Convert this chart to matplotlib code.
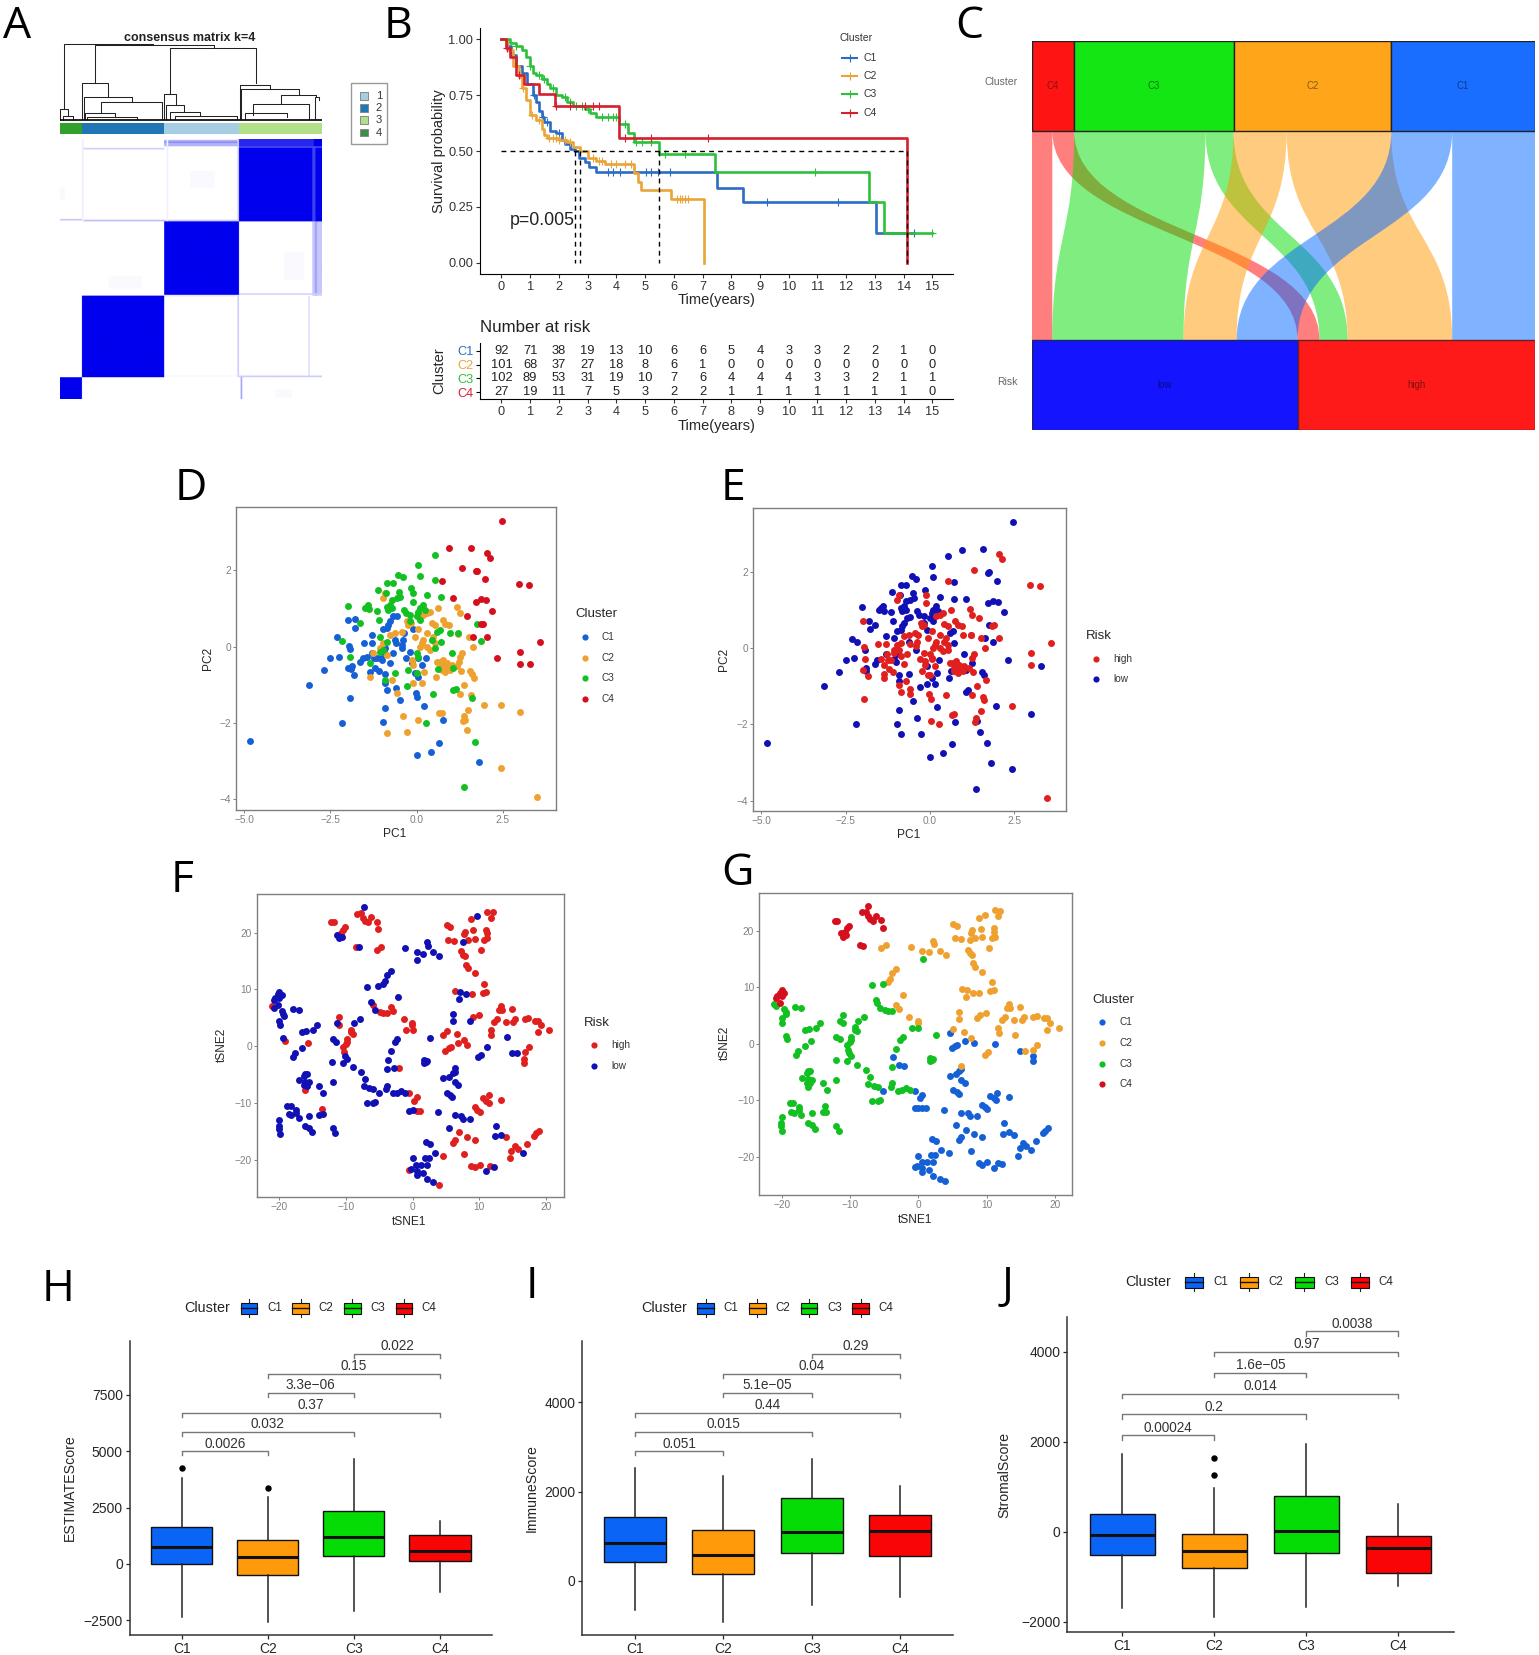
import numpy as np
import matplotlib
matplotlib.use('Agg')
import matplotlib.pyplot as plt
from matplotlib.colors import LinearSegmentedColormap
from matplotlib.patches import PathPatch, Rectangle
from matplotlib.path import Path

plt.rcParams['font.family'] = ['Liberation Sans', 'DejaVu Sans']

W, H = 1539, 1655

# A: consensus matrix
cons_col_order = [4, 2, 1, 3]
cons_row_order = [3, 1, 2, 4]
cons_sizes = {1: 92, 2: 101, 3: 102, 4: 27}
cons_colors = {1: '#A6CEE3', 2: '#1F78B4', 3: '#B2DF8A', 4: '#33A02C'}
# row0, row1, col0, col1, value
cons_streaks = [
    (1, 9, 128, 220, .3), (3, 5, 128, 220, .45), (11, 13, 27, 128, .18),
    (99, 101, 0, 27, .22), (100, 102, 27, 128, .25), (100, 102, 128, 220, .2),
    (0, 102, 27, 29, .07), (0, 102, 131, 133, .06), (0, 102, 218, 220, .18),
    (9, 102, 310, 314, .75), (9, 11, 220, 322, .7), (0, 9, 220, 322, .85), (0, 9, 312, 322, 1),
    (102, 194, 310, 322, .22), (102, 194, 313, 316, .35), (191, 193, 220, 322, .18),
    (193, 195, 128, 220, .1), (194, 295, 218, 220, .2), (194, 295, 305, 307, .13),
    (293, 295, 220, 322, .2), (293, 294, 128, 220, .06), (295, 322, 222, 224, .35),
    (40, 60, 160, 190, .025), (140, 175, 275, 300, .025), (170, 185, 60, 100, .025),
    (60, 75, 0, 6, .025), (310, 320, 265, 285, .025),
]
# left x, right x, top, left bottom, right bottom
dendro_links = [
    (193, 460, 132, 326, 132), (285, 640, 135, 250, 143), (510, 766, 143, 283, 250),
    (247, 323, 250, 358, 290), (253, 395, 290, 358, 305), (302, 485, 305, 335, 358),
    (255, 345, 340, 358, 350), (262, 410, 350, 358, 358), (493, 527, 283, 358, 315),
    (497, 553, 315, 358, 332), (510, 600, 335, 358, 345), (525, 710, 348, 358, 358),
    (720, 810, 254, 358, 268), (723, 895, 268, 358, 285), (842, 948, 285, 310, 292),
    (757, 925, 312, 345, 358), (735, 860, 340, 358, 350), (945, 955, 292, 358, 300),
    (180, 204, 326, 360, 347), (188, 220, 349, 360, 360),
]

# B: survival
km_colors = {'C1': '#2B6CC4', 'C2': '#E9A539', 'C3': '#2DC03C', 'C4': '#D3202E'}
km_c1_t = [0, .2, .35, .5, .7, .9, 1.1, 1.2, 1.3, 1.4, 1.5, 1.7, 1.9, 2.1, 2.2, 2.4, 2.55, 2.7, 2.9, 3.05, 3.3, 7.5, 8.4, 13.05, 14.37]
km_c1_s = [1, .97, .93, .88, .85, .8, .75, .72, .68, .65, .63, .59, .58, .55, .53, .51, .5, .47, .45, .43, .405, .335, .27, .135, .135]
km_c2_t = [0, .2, .4, .6, .7, .85, 1, 1.2, 1.4, 1.5, 1.6, 2, 2.3, 2.5, 2.75, 3, 3.3, 3.6, 4.6, 4.75, 4.85, 5.9, 7.05]
km_c2_s = [1, .95, .88, .83, .78, .73, .66, .64, .6, .57, .56, .55, .54, .52, .5, .47, .455, .44, .4, .36, .325, .285, 0]
km_c3_t = [0, .3, .5, .7, .85, 1, 1.1, 1.2, 1.4, 1.6, 1.7, 1.9, 2.1, 2.3, 2.5, 2.9, 3.1, 3.3, 4.1, 4.4, 4.6, 5.5, 7.45, 12.8, 13.3, 15]
km_c3_s = [1, .985, .97, .95, .92, .88, .85, .84, .82, .8, .78, .75, .74, .72, .7, .69, .67, .65, .62, .58, .54, .485, .405, .27, .135, .135]
km_c4_t = [0, .15, .3, .5, .8, 1.3, 1.85, 4.1, 14.1]
km_c4_s = [1, .96, .92, .84, .8, .755, .7, .56, 0]
km_c1_cens = [1.15, 1.45, 1.6, 2.0, 3.7, 3.9, 4.13, 5.03, 5.2, 5.45, 5.87, 9.25, 11.73, 14.37]
km_c2_cens = [.75, 1.05, 1.3, 1.65, 1.8, 1.9, 2.0, 2.2, 2.4, 3.2, 3.4, 3.5, 3.8, 4.0, 4.3, 4.5, 6.1, 6.2, 6.3, 6.4, 6.5]
km_c3_cens = [.5, 1.0, 1.3, 1.5, 1.8, 2.2, 2.4, 2.6, 2.8, 3.0, 3.5, 3.7, 3.9, 4.0, 4.3, 4.7, 4.9, 5.2, 5.7, 6.4, 10.9, 15.0]
km_c4_cens = [.2, .6, 1.9, 2.4, 2.9, 3.2, 3.4, 4.3, 5.2, 7.2]
km_medians = [2.55, 2.75, 5.5, 14.1]
km_xticks = list(range(16))
risk_c1 = [92, 71, 38, 19, 13, 10, 6, 6, 5, 4, 3, 3, 2, 2, 1, 0]
risk_c2 = [101, 68, 37, 27, 18, 8, 6, 1, 0, 0, 0, 0, 0, 0, 0, 0]
risk_c3 = [102, 89, 53, 31, 19, 10, 7, 6, 4, 4, 4, 3, 3, 2, 1, 1]
risk_c4 = [27, 19, 11, 7, 5, 3, 2, 2, 1, 1, 1, 1, 1, 1, 1, 0]

# C: alluvial
allu_clusters = ['C4', 'C3', 'C2', 'C1']
allu_low = [13, 84, 34, 39]
allu_high = [14, 18, 67, 53]
allu_fill = {'C4': '#FF1414', 'C3': '#14E614', 'C2': '#FFA51A', 'C1': '#1A6EFF'}
allu_flow = {'C4': '#FF0000', 'C3': '#00DD00', 'C2': '#FF9900', 'C1': '#0066FF'}
allu_text = {'C4': '#8A1010', 'C3': '#0B7A0B', 'C2': '#8A5A10', 'C1': '#0F3C8A', 'low': '#0A0A80', 'high': '#801010'}

# D, E: PCA points by cluster and risk
pca_c1_high = [(-1.99, .70), (-1.96, .02), (-1.99, -.57), (-1.82, -.74), (-1.94, -1.34), (-1.54, .10), (-1.30, .10),
               (-1.45, -.28), (-1.24, -.31), (-1.14, -.31), (-1.35, -.67), (-1.08, -.64), (-.92, -.96), (-.87, -1.14),
               (-.60, -1.08), (-.02, -1.21), (.02, -1.33), (-.77, -.42), (-.68, -.16), (-.36, .35), (-.39, .17),
               (-.42, .04), (-.19, -.13), (-.14, -.44), (.16, -.48), (-.05, -.70), (-.92, -.04), (-.30, -.30),
               (-1.20, -.55), (-.60, .10), (.05, -.30)]
pca_c1_low = [(-4.83, -2.48), (-3.13, -1.00), (-2.68, -.62), (-2.50, -.31), (-2.26, -.26), (-2.30, .24), (-2.18, -2.00),
              (-1.80, .72), (-1.79, .49), (-1.92, -.05), (-1.88, -.52), (-1.90, -.59), (-1.31, .31), (-1.64, -.41),
              (-1.57, -.31), (-1.30, -.17), (-1.01, -.36), (-.92, -.72), (-.49, -1.40), (-.91, -1.62), (-.98, -1.98),
              (.21, -1.55), (.75, -1.93), (.66, -2.52), (.40, -2.76), (0, -2.85), (1.81, -3.01), (.05, -.79),
              (.27, -.31), (-.10, .47), (-.58, .80), (-.68, .79), (-.77, .66), (-.82, .57), (-.87, .48), (-.97, .45),
              (-.63, .17), (-.42, -.04), (-1.05, -.30), (-.95, -.15)]
pca_c2_high = [(3.48, -3.93), (2.43, -1.52), (1.50, -1.66), (1.37, -1.83), (1.33, -1.94), (.66, -1.75), (.72, -1.73), (.03, -1.92),
               (-.58, -1.21), (-.72, -.87), (-1.35, -.79), (1.58, -1.28), (1.38, -1.00), (1.26, -1.24), (1.66, -.83),
               (1.29, -.63), (1.62, 0), (1.52, .26), (1.21, .33), (1.30, -.17), (1.26, -.26), (1.16, -.52),
               (.68, -.39), (.77, -.35), (.87, -.44), (.72, -.52), (.82, -.57), (.92, -.52), (.97, -.61), (.82, -.66),
               (.72, -.61), (1.01, -.48), (.58, -.39), (.63, 1.0), (1.18, 1.03), (1.26, .87), (-.97, 1.27), (-.92, 1.40),
               (.75, .70), (.82, .59), (.95, .57), (.43, .63), (.53, .57), (.29, .87), (.19, .83), (.39, .92),
               (-.24, .57), (-.27, .66), (-.17, .61), (.05, .45), (.29, .35), (.19, .17), (.14, .09), (.29, 0),
               (.39, -.09), (.10, 0), (.48, .26), (.53, .09), (-.05, .26), (-1.06, -.04), (-.97, .09), (-1.26, -.17),
               (-.87, -.22), (-.77, .31), (-.63, .35), (-.43, .39), (-.14, -.35)]
pca_c2_low = [(2.43, -3.17), (3.00, -1.72), (1.95, -1.52), (1.40, -1.92), (1.47, -2.19), (-.39, -1.83), (-.27, -2.24), (-.85, -2.25),
              (-.10, -.94), (.16, -.94), (.21, -.66), (1.55, -.64), (1.59, -.72), (1.24, -.39), (.55, -.79), (-.10, -.48)]
pca_c3_high = [(.27, -2.00), (1.59, -1.35), (.48, -1.24), (-.12, 1.40), (-.12, 1.18), (.53, 1.75), (-1.35, -.44), (-1.93, -.28),
               (-1.06, -.13), (-.87, .13), (.53, -.04), (.43, .17), (0, -.17), (1.21, .35), (.05, -.26), (.97, .35), (-.24, -.61), (0, -.70)]
pca_c3_low = [(1.37, -3.69), (1.70, -2.49), (1.06, -1.14), (1.14, -1.11), (-.29, -1.02), (-.92, -.87), (-.62, -.68),
              (-2.17, .15), (-2.0, 1.07), (-1.64, .61), (-1.50, 1.0), (-1.40, 1.09), (-1.37, .98), (-1.45, 1.05),
              (-1.14, .94), (-1.08, .70), (-1.13, 1.48), (-.87, 1.66), (-.70, 1.66), (-.89, 1.40), (-.53, 1.88),
              (-.41, 1.82), (-.51, 1.44), (-.16, 1.53), (.05, 2.14), (.53, 2.41), (.10, 1.85), (.31, 1.34), (.71, 1.29),
              (-.72, 1.22), (-.58, 1.27), (-.48, 1.31), (-.77, 1.09), (-.87, 1.05), (-.82, .96), (-.72, 1.00), (-.37, .96),
              (-.31, .87), (-.19, .83), (.05, .92), (.10, 1.0), (.19, 1.09), (.24, .96), (0, .79), (.10, .70), (-.19, .66),
              (-1.06, .26), (-.97, -.09), (.68, .44), (.58, .39), (.70, .13), (1.01, -.16), (1.06, -.57), (.61, -.59),
              (1.76, .59), (1.86, .16)]
pca_c4_high = [(2.04, 2.46), (2.13, 2.33), (1.30, 2.05), (2.97, 1.65), (3.26, 1.62), (1.45, .79), (1.91, .60), (2.04, .25),
               (3.58, .13), (3.00, -.13), (3.00, -.45), (1.85, .58)]
pca_c4_low = [(2.46, 3.30), (.95, 2.58), (1.58, 2.59), (1.72, 1.97), (1.75, 1.99), (1.98, 1.76), (.72, 1.72), (1.06, 1.28), (1.71, 1.17),
              (1.86, 1.24), (2.01, 1.21), (2.18, .94), (1.62, .26), (2.32, -.31), (3.29, -.46)]

# F, G: tSNE points by cluster and risk
tsne_c1_high = [(4.6, 2), (4.9, -.8), (5.4, -.4), (5.7, -.2), (6.8, .5), (8.2, .2), (16.7, -2.2), (16.7, -3), (-2.1, -3.9),
                (-.5, -8.3), (.2, -9.6), (.6, -9), (.6, -11.4), (1.1, -11.4), (9.3, -10.8), (9.7, -11.2), (10.1, -11.6),
                (10.5, -9.2), (11, -9.6), (11.4, -10), (11.5, -8.7), (13.2, -9.5), (6.9, -15.2), (6.3, -16.5), (6, -17),
                (8.2, -16), (9.3, -16.5), (7.7, -19), (8.8, -21.1), (9.3, -21.4), (10.1, -21), (11.6, -21.1), (14, -16.1),
                (14.6, -19.8), (14.8, -18.5), (15.3, -17.6), (15.8, -18.1), (17.2, -17.2), (18.2, -15.8), (18.5, -15.4),
                (18.9, -14.9), (4.5, -19.3), (3.9, -24.4), (-.5, -21.9)]
tsne_c1_low = [(11.2, -.1), (14.9, -1.2), (-3.7, -2.4), (-2.8, -3.8), (-5.1, -8.3), (-.5, -11.4), (0, -11.3), (3.8, -11.7),
               (4.6, -5.7), (5.5, -5.4), (6, -4.8), (6.3, -4.5), (6.3, -6.4), (6.8, -6.9), (5.1, -8.2), (5.6, -8.6),
               (5.9, -8.9), (6.3, -12.2), (7.3, -12.3), (7.5, -12.8), (8.6, -12.8), (5.5, -14.4), (11, -22), (12.2, -21.3),
               (12.5, -14.1), (12.4, -15.9), (13.2, -15.7), (16.5, -18.9), (2, -16.9), (2.6, -17.3), (3.3, -18.8),
               (0, -19.8), (.5, -20.9), (-.2, -21.7), (.6, -22), (.6, -22.7), (1.6, -22.4), (1.8, -19.7), (2.4, -19.7),
               (1.2, -21), (2.2, -21), (2.2, -23.5), (3.1, -24)]
tsne_c2_high = [(-5.4, 17), (-4.7, 17.5), (-3.2, 6.9), (-2.9, 6.1), (-1.3, 4.7), (-.1, 4.1), (-.1, 3.7), (5.1, 21.3), (5.6, 20.9),
                (5.3, 18.7), (6.2, 18.6), (8.8, 22.4), (7.8, 20.1), (7.7, 19.7), (8.3, 18.7), (9.3, 18.9), (9.1, 20.4),
                (11, 20.5), (11.1, 19.9), (11.2, 19), (10.7, 18.7), (11.2, 23.7), (12, 23.6), (11.7, 22.6), (10.3, 17),
                (7.3, 16.7), (7.6, 16.1), (7.8, 15.8), (8, 14.3), (8.3, 13.7), (9.3, 12.8), (10.7, 11), (10.5, 9.3), (11, 9.5),
                (6.4, 9.7), (8.9, 9.1), (5.1, 2.7), (9, 5.1), (9.9, 5.4), (6.7, 2.1), (7.7, 1), (13.2, 7), (12.9, 6.3),
                (13.4, 6.3), (12.2, 4.3), (12.7, 4.8), (14.9, 6.6), (14, 4.3), (15.1, 4.3), (15.4, 4.7), (16.8, 4.7),
                (17.3, 5), (18.3, 4.5), (18.8, 4.5), (19.3, 3.7), (18.8, 2.5), (20.5, 2.8), (11.7, 2.8), (11.8, 1.9),
                (16.8, -1.1), (17.4, -.2)]
tsne_c2_low = [(-1.1, 17.2), (.6, 16.5), (1.5, 16.2), (2.2, 18.3), (2.3, 17.7), (3.1, 16.5), (4, 15.8), (-4.4, 11), (-4.1, 11.5),
               (-3.8, 12.5), (-3.2, 13.2), (-2.2, 8.7), (9.7, 22.9), (7.6, 18.4), (7.1, 9.5), (7, 8.3), (8, 9.1), (6, 5.7), (6, 4.4),
               (8.6, 4.5), (9.8, -1.9), (10.2, -1.5), (14.1, 1.6), (15.6, -1.2), (6.3, -3.9)]
tsne_c3_high = [(-21.1, 7.1), (-19.2, .9), (-15.7, .5), (-16.2, -7.7), (-13.6, -11.1), (-11, 5.1), (-11, 3.7), (-9.3, 2.9), (-9, 2.2),
                (-9.3, 2.5), (-9.9, 1.3), (-9.8, .7), (-10, .4), (-10.5, -.2), (-10.3, -1.1), (-6, 7.2), (-4.9, 6), (-4.4, 5.9),
                (-3.8, 5.9), (-1, 2.8), (0, 2.8)]
tsne_c3_low = [(-20.8, 6.7), (-19.6, 6.1), (-19.4, 5.6), (-19.3, 5.3), (-20, 4.5), (-19.9, 3.7), (-19.4, 1.4), (-18, 6.6), (-17.1, 6.4),
               (-16.6, 2.5), (-16, 2.6), (-15, 2.8), (-14.4, 3.7), (-16.6, -.4), (-17.6, -1.2), (-17.9, -2), (-16.1, -4.9),
               (-15.9, -4.9), (-16.3, -5.2), (-17, -6), (-16.1, -6.3), (-15.6, -6.4), (-16.3, -6.9), (-15.8, -7), (-14, -7),
               (-13.4, -8.2), (-12, -6.4), (-18.8, -10.5), (-18.3, -10.5), (-17.5, -11.2), (-18.6, -12), (-18.2, -12.2),
               (-17.1, -12.7), (-17.5, -11.8), (-14, -12.1), (-13.5, -12), (-15.5, -12.3), (-20, -13), (-20.1, -14.1),
               (-20.1, -14.6), (-19.9, -15.5), (-16.2, -14.1), (-15.5, -14.4), (-15.1, -15.1), (-12, -14.5), (-11.6, -15.4),
               (-11.4, 4), (-8.8, 4.1), (-7.9, 4.7), (-12, 1.3), (-11.5, .8), (-10.1, -1.7), (-9.8, -2.2), (-10.4, -3),
               (-12.1, -2.8), (-9, -3.7), (-7.7, -4.6), (-7.1, -5.8), (-7.3, -7.1), (-6.5, -7.4), (-5.9, -7.6), (-6.8, 10.4),
               (-5.2, 10.6), (-6.2, 7.8), (-5.6, 6.3), (.7, 15.1), (2.6, 1.5), (-2.7, .7), (-2.3, 1.3), (-3.2, -.9), (-3.8, -4.1),
               (1.7, -2.5), (2, -2.8), (1.7, -3), (2.2, -2.7), (-4, -7.6), (-3.8, -7), (-3, -8.3), (-2.4, -8.2), (-1.8, -7.9),
               (-1.2, -8.2), (-6.8, -10.1), (-5.9, -10.1), (-5.6, -9.9)]
tsne_c4_high = [(-12.2, 21.8), (-11.85, 21.8), (-10.2, 20.9), (-10.5, 20.5), (-10.8, 19.9), (-8.5, 17.5), (-8.3, 23.3), (-7.7, 23.4),
                (-7.4, 22.6), (-7.1, 22.1), (-6.7, 21.8), (-6.2, 22.7), (-5.4, 21.9), (-5.2, 20.6)]
tsne_c4_low = [(-11.3, 19.6), (-11, 19), (-10.6, 19.3), (-8.1, 17.4), (-7.3, 24.5), (-20, 9.6), (-20.2, 9.1), (-20.6, 8.4), (-20.8, 8.1),
               (-20, 8.5), (-20.2, 7.3), (-19.6, 9)]

pt_cluster = {'C1': '#1660D6', 'C2': '#EFA12F', 'C3': '#12C022', 'C4': '#D4101F'}
pt_risk = {'high': '#E01F1F', 'low': '#1010B4'}

# H, I, J: boxplots, order C1..C4
box_names = ['C1', 'C2', 'C3', 'C4']
box_colors = ['#0A64F5', '#FF9A0A', '#05DB05', '#FA0505']
est_q1 = [0, -488, 370, 133]
est_med = [770, 310, 1213, 592]
est_q3 = [1642, 1050, 2352, 1272]
est_lo = [-2337, -2560, -2071, -1257]
est_hi = [3800, 2988, 4645, 1908]
est_fliers = [[4260], [3358], [], []]
est_brackets = [5000, 5858, 6716, 7589, 8447, 9320]
est_labels = ['0.0026', '0.032', '0.37', '3.3e\u221206', '0.15', '0.022']
imm_q1 = [433, 149, 627, 560]
imm_med = [843, 590, 1097, 1119]
imm_q3 = [1425, 1149, 1866, 1470]
imm_lo = [-649, -910, -545, -351]
imm_hi = [2522, 2350, 2724, 2127]
imm_fliers = [[], [], [], []]
imm_brackets = [2903, 3336, 3769, 4209, 4642, 5082]
imm_labels = ['0.051', '0.015', '0.44', '5.1e\u221205', '0.04', '0.29']
str_q1 = [-519, -816, -475, -912]
str_med = [-67, -423, 15, -371]
str_q3 = [400, -45, 801, -96]
str_lo = [-1706, -1907, -1669, -1202]
str_hi = [1728, 972, 1951, 608]
str_fliers = [[], [1254, 1639], [], []]
str_brackets = [2144, 2611, 3064, 3531, 3999, 4458]
str_labels = ['0.00024', '0.2', '0.014', '1.6e\u221205', '0.97', '0.0038']
bracket_pairs = [(0, 1), (0, 2), (0, 3), (1, 2), (1, 3), (2, 3)]

fig = plt.figure(figsize=(W / 100, H / 100), dpi=100, facecolor='white')


def px_axes(x0, y0, x1, y1):
    return fig.add_axes([x0 / W, 1 - y1 / H, (x1 - x0) / W, (y1 - y0) / H])


ov = fig.add_axes([0, 0, 1, 1], zorder=20)
ov.set_xlim(0, W)
ov.set_ylim(H, 0)
ov.axis('off')


def place_labels(ax, xlabel, ylabel, xpos, ypos, size, color='#262626'):
    ax.set_xlabel(xlabel, fontsize=size, color=color)
    ax.set_ylabel(ylabel, fontsize=size, color=color)
    ax.xaxis.set_label_coords(xpos[0], xpos[1], transform=ov.transData)
    ax.yaxis.set_label_coords(ypos[0], ypos[1], transform=ov.transData)
    ax.xaxis.label.set_va('center')
    ax.yaxis.label.set_va('center')


# ---- panel letters
letters = [('A', 3, 38), ('B', 384, 38), ('C', 955, 38), ('D', 175, 500), ('E', 721, 500),
           ('F', 171, 892), ('G', 721, 885), ('H', 42, 1301), ('I', 526, 1298), ('J', 1002, 1298)]
for s, lx, ly in letters:
    ov.text(lx, ly, s, fontsize=32, family='Open Sans', color='black', ha='left', va='baseline')

# ---- A
n = sum(cons_sizes.values())
mat = np.zeros((n, n))
r0 = 0
for rc in cons_row_order:
    c0 = 0
    for cc in cons_col_order:
        if cc == rc:
            mat[r0:r0 + cons_sizes[rc], c0:c0 + cons_sizes[cc]] = 1
        c0 += cons_sizes[cc]
    r0 += cons_sizes[rc]
for a, b, c, d, v in cons_streaks:
    mat[a:b, c:d] = v
cmap = LinearSegmentedColormap.from_list('wb', ['white', '#0000EE'])
ax = px_axes(60, 139, 322, 399)
ax.imshow(mat, cmap=cmap, vmin=0, vmax=1, aspect='auto', interpolation='bilinear')
ax.axis('off')

ax = px_axes(60, 123, 322, 134)
c0 = 0
for cc in cons_col_order:
    ax.barh(0, cons_sizes[cc], left=c0, height=1, color=cons_colors[cc])
    c0 += cons_sizes[cc]
ax.set_xlim(0, n)
ax.set_ylim(-.5, .5)
ax.axis('off')

ax = px_axes(60, 42, 322, 121)
for xl, xr, top, bl, br in dendro_links:
    ax.plot([xl, xl, xr, xr], [bl, top, top, br], color='#222222', lw=.75)
ax.plot([180, 965], [360, 360], color='#111111', lw=1.3)
ax.set_xlim(180, 965)
ax.set_ylim(363, 126)
ax.axis('off')
ov.text(190, 38, 'consensus matrix k=4', fontsize=9, fontweight='bold', ha='center', va='center', color='#222222')
ov.add_patch(Rectangle((351, 83), 36, 61, fc='white', ec='#999999', lw=1))
for i, k in enumerate([1, 2, 3, 4]):
    yy = 92 + i * 12.2
    ov.add_patch(Rectangle((360, yy), 8, 7.5, fc=cons_colors[k] if k != 4 else '#3C8F46', ec='#888888', lw=.7))
    ov.text(379, yy + 4, str(k), fontsize=8, ha='center', va='center', color='#333333')

# ---- B
ax = px_axes(480.3, 28, 952.8, 274)
km_data = [('C1', km_c1_t, km_c1_s, km_c1_cens), ('C2', km_c2_t, km_c2_s, km_c2_cens),
           ('C3', km_c3_t, km_c3_s, km_c3_cens), ('C4', km_c4_t, km_c4_s, km_c4_cens)]
for name, t, s, cens in km_data:
    ax.step(t, s, where='post', color=km_colors[name], lw=1.9)
    idx = np.searchsorted(t, cens, side='right') - 1
    ax.plot(cens, np.array(s)[idx], '+', color=km_colors[name], ms=6, mew=.8)
ax.plot([0, km_medians[-1]], [.5, .5], color='black', lw=1, ls=(0, (3.5, 3)))
for m in km_medians:
    ax.plot([m, m], [.5, 0], color='black', lw=1, ls=(0, (3.5, 3)))
ax.set_xlim(-.734, 15.71)
ax.set_ylim(-.05, 1.05)
ax.set_xticks(km_xticks)
ax.set_yticks([0, .25, .5, .75, 1])
ax.set_yticklabels(['0.00', '0.25', '0.50', '0.75', '1.00'])
ax.tick_params(labelsize=9.2, length=3, width=.8, colors='#333333', pad=2)
for s in ['top', 'right']:
    ax.spines[s].set_visible(False)
place_labels(ax, 'Time(years)', 'Survival probability', (716.6, 300), (439.5, 151), 10.5)
ax.text(.3, .19, 'p=0.005', fontsize=12.8, color='#222222', va='center')
ov.text(856, 38, 'Cluster', fontsize=7.5, ha='center', va='center', color='#333333')
for i, name in enumerate(box_names):
    yy = 58 + i * 18.2
    ov.plot([842.4, 857], [yy, yy], color=km_colors[name], lw=1.5)
    ov.plot([849.7], [yy], '+', color=km_colors[name], ms=6, mew=.8)
    ov.text(863.8, yy, name, fontsize=7.5, va='center', color='#333333')

ax = px_axes(480.3, 343, 952.8, 399)
rows = [(4, risk_c1), (3, risk_c2), (2, risk_c3), (1, risk_c4)]
for yy, vals in rows:
    for xx, v in zip(km_xticks, vals):
        ax.text(xx, yy, str(v), ha='center', va='center', fontsize=9.3, color='#222222')
ax.set_xlim(-.734, 15.71)
ax.set_ylim(.488, 4.585)
ax.set_xticks(km_xticks)
ax.set_yticks([4, 3, 2, 1])
ax.set_yticklabels(box_names)
for lab, name in zip(ax.get_yticklabels(), box_names):
    lab.set_color(km_colors[name])
ax.tick_params(labelsize=9.2, length=3, width=.8, pad=2)
ax.tick_params(axis='x', colors='#333333')
for s in ['top', 'right']:
    ax.spines[s].set_visible(False)
place_labels(ax, 'Time(years)', 'Cluster', (716.6, 426), (439.5, 371), 10.5)
ov.text(480.3, 328, 'Number at risk', fontsize=12.2, va='center', color='#222222')

# ---- C
ax = px_axes(1032, 41, 1535, 430)
total = sum(allu_low) + sum(allu_high)
strata_h = 90 / 389
y_top = 1 - strata_h
y_bot = strata_h
mid = (y_top + y_bot) / 2
low_pos = 0
high_pos = sum(allu_low)
top_pos = 0
for name, lo, hi in zip(allu_clusters, allu_low, allu_high):
    for w, b in [(lo, low_pos), (hi, high_pos)]:
        t = top_pos
        verts = [(t, y_top), (t, mid), (b, mid), (b, y_bot), (b + w, y_bot), (b + w, mid), (t + w, mid), (t + w, y_top), (t, y_top)]
        codes = [Path.MOVETO, Path.CURVE4, Path.CURVE4, Path.CURVE4, Path.LINETO, Path.CURVE4, Path.CURVE4, Path.CURVE4, Path.CLOSEPOLY]
        ax.add_patch(PathPatch(Path(verts, codes), fc=allu_flow[name], ec='none', alpha=.5))
        top_pos += w
    low_pos += lo
    high_pos += hi
left = 0
for name, lo, hi in zip(allu_clusters, allu_low, allu_high):
    w = lo + hi
    ax.add_patch(Rectangle((left, y_top), w, strata_h, fc=allu_fill[name], ec='#222222', lw=1))
    ax.text(left + w / 2, y_top + strata_h * .5, name, fontsize=7, ha='center', va='center', color=allu_text[name])
    left += w
low_w = sum(allu_low)
ax.add_patch(Rectangle((0, 0), low_w, strata_h, fc='#1414FF', ec='#222266', lw=1))
ax.add_patch(Rectangle((low_w, 0), total - low_w, strata_h, fc='#FF1A1A', ec='#662222', lw=1))
ax.text(low_w / 2, strata_h * .5, 'low', fontsize=7, ha='center', va='center', color=allu_text['low'])
ax.text(low_w + (total - low_w) / 2, strata_h * .5, 'high', fontsize=7, ha='center', va='center', color=allu_text['high'])
ax.set_xlim(0, total)
ax.set_ylim(0, 1)
ax.axis('off')
ov.text(1017.5, 82, 'Cluster', fontsize=7.5, ha='right', va='center', color='#666666')
ov.text(1017.5, 382, 'Risk', fontsize=7.5, ha='right', va='center', color='#666666')

# ---- D, E, F, G


def scatter_panel(box, xlim, ylim, xticks, xtl, yticks, ytl, groups, colors, xl, yl, xpos, ypos):
    a = px_axes(*box)
    for key, pts in groups:
        arr = np.array(pts)
        a.scatter(arr[:, 0], arr[:, 1], s=25, color=colors[key], linewidths=0)
    a.set_xlim(*xlim)
    a.set_ylim(*ylim)
    a.set_xticks(xticks)
    a.set_xticklabels(xtl)
    a.set_yticks(yticks)
    a.set_yticklabels(ytl)
    a.tick_params(labelsize=7.3, length=2, width=.7, colors='#808080', pad=1.5)
    for sp in a.spines.values():
        sp.set_color('#7F7F7F')
        sp.set_linewidth(1)
    place_labels(a, xl, yl, xpos, ypos, 8.6)
    return a


def point_legend(title, tx, ty, px_, py_list, lx, names, colors):
    ov.text(tx, ty, title, fontsize=9.5, va='center', color='#262626')
    for yy, nm in zip(py_list, names):
        ov.scatter([px_], [yy], s=20, color=colors[nm], linewidths=0)
        ov.text(lx, yy, nm, fontsize=7.2, va='center', color='#333333')


pca_xt = [-5, -2.5, 0, 2.5]
pca_xl = ['\u22125.0', '\u22122.5', '0.0', '2.5']
pca_yt = [-4, -2, 0, 2]
pca_yl = ['\u22124', '\u22122', '0', '2']
tsne_xt = [-20, -10, 0, 10, 20]
tsne_xl = ['\u221220', '\u221210', '0', '10', '20']
tsne_yl = ['\u221220', '\u221210', '0', '10', '20']

pca_by_cluster = [('C1', pca_c1_low + pca_c1_high), ('C2', pca_c2_low + pca_c2_high),
                  ('C3', pca_c3_low + pca_c3_high), ('C4', pca_c4_low + pca_c4_high)]
pca_by_risk = [('low', pca_c1_low + pca_c2_low + pca_c3_low + pca_c4_low),
               ('high', pca_c1_high + pca_c2_high + pca_c3_high + pca_c4_high)]
tsne_by_cluster = [('C1', tsne_c1_low + tsne_c1_high), ('C2', tsne_c2_low + tsne_c2_high),
                   ('C3', tsne_c3_low + tsne_c3_high), ('C4', tsne_c4_low + tsne_c4_high)]
tsne_by_risk = [('high', tsne_c1_high + tsne_c2_high + tsne_c3_high + tsne_c4_high),
                ('low', tsne_c1_low + tsne_c2_low + tsne_c3_low + tsne_c4_low)]

scatter_panel((236, 507.3, 555.7, 810), (-5.24, 4.03), (-4.28, 3.65), pca_xt, pca_xl, pca_yt, pca_yl,
              pca_by_cluster, pt_cluster, 'PC1', 'PC2', (395, 834), (207.7, 658))
point_legend('Cluster', 575, 614, 585, [636.7, 657.7, 678, 699], 602, box_names, pt_cluster)
scatter_panel((752.7, 508.3, 1066, 811), (-5.25, 4.03), (-4.27, 3.66), pca_xt, pca_xl, pca_yt, pca_yl,
              pca_by_risk, pt_risk, 'PC1', 'PC2', (909, 835), (724, 659))
point_legend('Risk', 1086, 636, 1096, [658.7, 679], 1113, ['high', 'low'], pt_risk)
scatter_panel((256.7, 894, 564, 1197), (-23.4, 22.7), (-26.6, 26.8), tsne_xt, tsne_xl, tsne_xt, tsne_yl,
              tsne_by_risk, pt_risk, 'tSNE1', 'tSNE2', (409, 1222), (221.7, 1045))
point_legend('Risk', 584, 1022.7, 594, [1045, 1066], 611, ['high', 'low'], pt_risk)
scatter_panel((759, 892.7, 1072.3, 1195), (-23.3, 22.5), (-26.8, 26.8), tsne_xt, tsne_xl, tsne_xt, tsne_yl,
              tsne_by_cluster, pt_cluster, 'tSNE1', 'tSNE2', (915, 1220), (725, 1043))
point_legend('Cluster', 1092, 1000, 1102, [1022, 1043, 1063.7, 1084], 1119, box_names, pt_cluster)

# ---- H, I, J


def box_panel(box, xlim, ylim, q1, med, q3, lo, hi, fliers, levels, labels, yticks, ytl, yl, ypos, width):
    a = px_axes(*box)
    stats = [dict(med=med[i], q1=q1[i], q3=q3[i], whislo=lo[i], whishi=hi[i], fliers=fliers[i]) for i in range(4)]
    parts = a.bxp(stats, positions=range(4), widths=width, patch_artist=True, showcaps=False, manage_ticks=False,
                  boxprops=dict(edgecolor='#111111', lw=1),
                  medianprops=dict(color='#111111', lw=2.2),
                  whiskerprops=dict(color='#222222', lw=1.1),
                  flierprops=dict(marker='o', mfc='black', mec='black', ms=3.6))
    for b, c in zip(parts['boxes'], box_colors):
        b.set_facecolor(c)
    tip = (ylim[1] - ylim[0]) * .0135
    for (i, j), lev, txt in zip(bracket_pairs, levels, labels):
        a.plot([i, i, j, j], [lev - tip, lev, lev, lev - tip], color='#777777', lw=1)
        a.annotate(txt, ((i + j) / 2, lev), xytext=(0, 7.5), textcoords='offset pixels', ha='center', va='center',
                   fontsize=9.8, color='#333333')
    a.set_xlim(*xlim)
    a.set_ylim(*ylim)
    a.set_xticks(range(4))
    a.set_xticklabels(box_names)
    a.set_yticks(yticks)
    a.set_yticklabels(ytl)
    a.tick_params(labelsize=10, length=3, width=.9, colors='#262626', pad=2)
    for s in ['top', 'right']:
        a.spines[s].set_visible(False)
    for s in ['left', 'bottom']:
        a.spines[s].set_color('#333333')
        a.spines[s].set_linewidth(1.1)
    a.set_ylabel(yl, fontsize=10.2, color='#262626')
    a.yaxis.set_label_coords(ypos[0], ypos[1], transform=ov.transData)
    a.yaxis.label.set_va('center')
    return a


def box_legend(tx, key_x, lab_x, yy, key_w):
    ov.text(tx, yy, 'Cluster', fontsize=10.4, va='center', color='#262626')
    for kx, lx, nm, c in zip(key_x, lab_x, box_names, box_colors):
        xm = kx + key_w / 2
        ov.plot([xm, xm], [yy - 9, yy + 9], color='#222222', lw=.8)
        ov.add_patch(Rectangle((kx, yy - 5.5), key_w, 11, fc=c, ec='#111111', lw=.8, zorder=3))
        ov.plot([kx, kx + key_w], [yy, yy], color='#111111', lw=1, zorder=4)
        ov.text(lx, yy, nm, fontsize=8.3, va='center', color='#262626')


box_panel((129.7, 1341, 491.7, 1635.3), (-.604, 3.6), (-3166, 9896), est_q1, est_med, est_q3, est_lo, est_hi,
          est_fliers, est_brackets, est_labels, [-2500, 0, 2500, 5000, 7500],
          ['\u22122500', '0', '2500', '5000', '7500'], 'ESTIMATEScore', (70, 1488), .71)
box_legend(184, [240.7, 292.3, 344, 395.7], [267, 318.7, 370, 421.7], 1308.3, 16.7)
box_panel((582.3, 1341, 952.7, 1635.3), (-.596, 3.596), (-1216, 5373), imm_q1, imm_med, imm_q3, imm_lo, imm_hi,
          imm_fliers, imm_brackets, imm_labels, [0, 2000, 4000],
          ['0', '2000', '4000'], 'ImmuneScore', (531.7, 1488), .70)
box_legend(641, [697.3, 749, 800.7, 852.3], [723.7, 775.3, 827, 878.3], 1308.3, 16.7)
box_panel((1067.3, 1317.3, 1454, 1632.3), (-.598, 3.605), (-2240, 4770), str_q1, str_med, str_q3, str_lo, str_hi,
          str_fliers, str_brackets, str_labels, [-2000, 0, 2000, 4000],
          ['\u22122000', '0', '2000', '4000'], 'StromalScore', (1004, 1475), .706)
box_legend(1125, [1185, 1240, 1295.3, 1350.7], [1213.3, 1268.7, 1324, 1378.7], 1282.3, 18.3)

fig.savefig('out.png', dpi=100)
